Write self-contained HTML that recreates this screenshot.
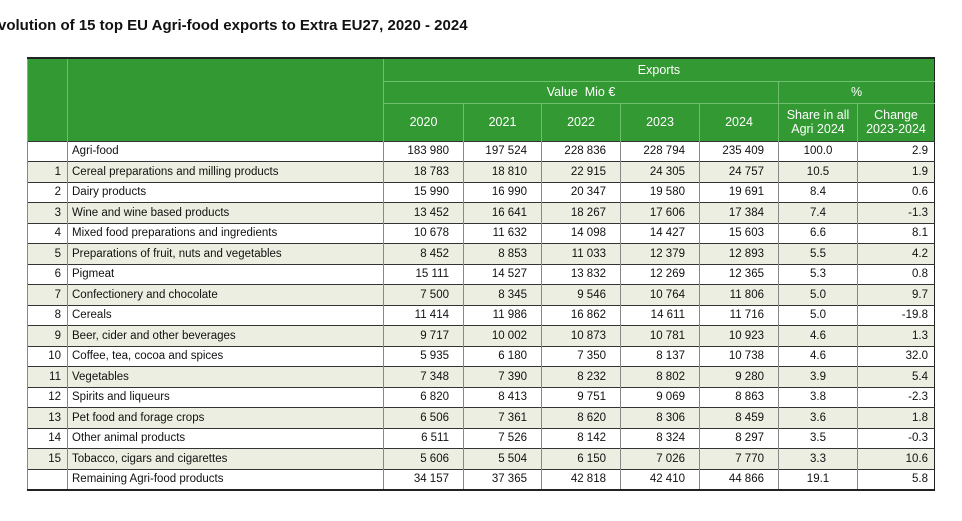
<!DOCTYPE html>
<html><head><meta charset="utf-8">
<style>
body{margin:0;width:962px;height:521px;background:#fff;position:relative;overflow:hidden;font-family:"Liberation Sans",sans-serif}
#title{position:absolute;left:-12px;top:17px;font-weight:bold;font-size:15px;white-space:nowrap;color:#111}
table{position:absolute;left:27px;top:57px;border-collapse:collapse;table-layout:fixed;font-size:11.5px;color:#111}
td,th{padding:0 6px;overflow:hidden;white-space:nowrap}
thead th{background:#339933;color:#fff;font-weight:normal;font-size:12.5px;border-left:1px solid #6fbf6f;border-top:1px solid #6fbf6f;text-align:center;line-height:14px}
thead tr.r0 th{border-top:2px solid #222}
tbody td{border-top:1px solid #333;border-left:1px solid #888;height:19.5px;text-align:right}
tbody tr:nth-child(even) td{background:#ebeee0}
tbody td.n{text-align:right;padding-right:14px}
tbody td.l{text-align:left;padding-left:4px}
tbody tr:last-child td{border-bottom:2px solid #222}
table{border-left:1.5px solid #222;border-right:1.5px solid #222}
</style></head><body>
<div id="title">Evolution of 15 top EU Agri-food exports to Extra EU27, 2020 - 2024</div>
<table>
<colgroup><col style="width:40px"><col style="width:316px"><col style="width:80px"><col style="width:78px"><col style="width:79px"><col style="width:79px"><col style="width:79px"><col style="width:79px"><col style="width:77px"></colgroup>
<thead>
<tr class="r0" style="height:23px"><th rowspan="3"></th><th rowspan="3"></th><th colspan="7">Exports</th></tr>
<tr style="height:22px"><th colspan="5">Value&nbsp; Mio €</th><th colspan="2">%</th></tr>
<tr style="height:38px"><th>2020</th><th>2021</th><th>2022</th><th>2023</th><th>2024</th><th>Share in all<br>Agri 2024</th><th>Change<br>2023-2024</th></tr>
</thead>
<tbody id="tb"></tbody>
</table>
<script>
const rows=[
["","Agri-food","183 980","197 524","228 836","228 794","235 409","100.0","2.9"],
["1","Cereal preparations and milling products","18 783","18 810","22 915","24 305","24 757","10.5","1.9"],
["2","Dairy products","15 990","16 990","20 347","19 580","19 691","8.4","0.6"],
["3","Wine and wine based products","13 452","16 641","18 267","17 606","17 384","7.4","-1.3"],
["4","Mixed food preparations and ingredients","10 678","11 632","14 098","14 427","15 603","6.6","8.1"],
["5","Preparations of fruit, nuts and vegetables","8 452","8 853","11 033","12 379","12 893","5.5","4.2"],
["6","Pigmeat","15 111","14 527","13 832","12 269","12 365","5.3","0.8"],
["7","Confectionery and chocolate","7 500","8 345","9 546","10 764","11 806","5.0","9.7"],
["8","Cereals","11 414","11 986","16 862","14 611","11 716","5.0","-19.8"],
["9","Beer, cider and other beverages","9 717","10 002","10 873","10 781","10 923","4.6","1.3"],
["10","Coffee, tea, cocoa and spices","5 935","6 180","7 350","8 137","10 738","4.6","32.0"],
["11","Vegetables","7 348","7 390","8 232","8 802","9 280","3.9","5.4"],
["12","Spirits and liqueurs","6 820","8 413","9 751","9 069","8 863","3.8","-2.3"],
["13","Pet food and forage crops","6 506","7 361","8 620","8 306","8 459","3.6","1.8"],
["14","Other animal products","6 511","7 526","8 142","8 324","8 297","3.5","-0.3"],
["15","Tobacco, cigars and cigarettes","5 606","5 504","6 150","7 026","7 770","3.3","10.6"],
["","Remaining Agri-food products","34 157","37 365","42 818","42 410","44 866","19.1","5.8"]];
const tb=document.getElementById('tb');
rows.forEach(r=>{
 const tr=document.createElement('tr');
 
 
 r.forEach((v,i)=>{
  const td=document.createElement('td');
  td.textContent=v;
  if(i==1)td.className='l';
  else if(i>=2&&i<=6)td.className='n';
  else if(i==7){td.style.textAlign='center';}
  
  
  tr.appendChild(td);
 });
 tb.appendChild(tr);
});
</script>
</body></html>
